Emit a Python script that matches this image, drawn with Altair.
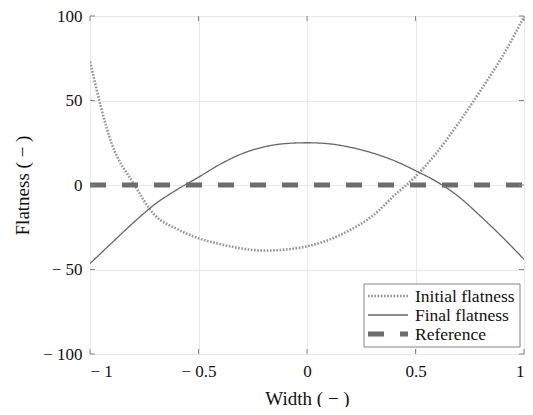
import altair as alt
import pandas as pd

# ---------------- data ----------------
x_grid = [-1.0, -0.9, -0.8, -0.7, -0.6, -0.5, -0.4, -0.3, -0.2, -0.1, 0.0,
          0.1, 0.2, 0.3, 0.4, 0.5, 0.6, 0.7, 0.8, 0.9, 1.0]
initial_flatness = [73, 24.5, 1, -18, -26, -31.5, -35, -37.6, -38.8, -38.2, -36.3,
                    -32.5, -26.5, -18.5, -6.5, 5, 19.5, 37, 56, 76, 99.5]
final_flatness = [-46.5, -34.3, -22.3, -11.3, -2.8, 4.6, 12.3, 18.5, 22.5, 24.5, 25,
                  24.4, 22.3, 19, 14.5, 8.5, 1.8, -7, -18.5, -30.8, -44]
reference_x = [-1.0, 1.0]
reference_y = [0.0, 0.0]
x_ticks = [-1, -0.5, 0, 0.5, 1]
y_ticks = [-100, -50, 0, 50, 100]
series_names = ["Initial flatness", "Final flatness", "Reference"]

# ---------------- styling ----------------
W, H = 434, 338
FONT = "Liberation Serif, Times New Roman, serif"
FRAME = "#858585"
styles = {
    "Initial flatness": dict(color="#989898", strokeWidth=2.6, strokeDash=[1.7, 1.5]),
    "Final flatness": dict(color="#676767", strokeWidth=1.3, strokeDash=[1, 0]),
    "Reference": dict(color="#6c6c6c", strokeWidth=5, strokeDash=[16, 16]),
}

rows = []
for xv, a, b in zip(x_grid, initial_flatness, final_flatness):
    rows.append({"x": xv, "value": a, "series": series_names[0]})
    rows.append({"x": xv, "value": b, "series": series_names[1]})
for xv, yv in zip(reference_x, reference_y):
    rows.append({"x": xv, "value": yv, "series": series_names[2]})
df = pd.DataFrame(rows)

xs = alt.Scale(domain=[-1, 1], nice=False, zero=False)
ys = alt.Scale(domain=[-100, 100], nice=False, zero=False)
label_expr = "datum.value < 0 ? '\u2212 ' + abs(datum.value) : '' + datum.value"

x_axis = alt.Axis(values=x_ticks, labelExpr=label_expr, title="Width ( \u2212 )",
                  grid=True, labelPadding=9, titleX=W / 2, titleY=50,
                  titleBaseline="alphabetic", titleAlign="center",
                  labelFont=FONT, titleFont=FONT)
y_axis = alt.Axis(values=y_ticks, labelExpr=label_expr, title="Flatness ( \u2212 )",
                  grid=True, labelPadding=8, titleX=-62, titleY=H / 2,
                  titleBaseline="alphabetic", titleAlign="center", titleAngle=270,
                  labelFont=FONT, titleFont=FONT)

X = alt.X("x:Q", scale=xs, axis=x_axis)
Y = alt.Y("value:Q", scale=ys, axis=y_axis)

layers = []
for name in series_names:
    st = styles[name]
    layers.append(
        alt.Chart(df).transform_filter(alt.datum.series == name)
        .mark_line(interpolate="monotone", clip=True, **st)
        .encode(x=X, y=Y)
    )

# inward ticks on all four sides
xt = pd.DataFrame({"x": x_ticks})
yt = pd.DataFrame({"value": y_ticks})
layers.append(alt.Chart(xt).mark_rule(color=FRAME, strokeWidth=1)
              .encode(x=X, y=alt.value(H), y2=alt.value(H - 5)))
layers.append(alt.Chart(xt).mark_rule(color=FRAME, strokeWidth=1)
              .encode(x=X, y=alt.value(0), y2=alt.value(5)))
layers.append(alt.Chart(yt).mark_rule(color=FRAME, strokeWidth=1)
              .encode(y=Y, x=alt.value(0), x2=alt.value(5)))
layers.append(alt.Chart(yt).mark_rule(color=FRAME, strokeWidth=1)
              .encode(y=Y, x=alt.value(W), x2=alt.value(W - 5)))

# legend box
LX0, LX1, LY0, LY1 = 274, 430, 268, 331
one = pd.DataFrame({"k": [0]})
layers.append(alt.Chart(one).mark_rect(fill="white", stroke=FRAME, strokeWidth=1)
              .encode(x=alt.value(LX0), x2=alt.value(LX1), y=alt.value(LY0), y2=alt.value(LY1)))
for i, name in enumerate(series_names):
    st = styles[name]
    yrow = 280 + 19 * i
    layers.append(alt.Chart(one).mark_rule(**st)
                  .encode(x=alt.value(LX0 + 4), x2=alt.value(LX0 + 44), y=alt.value(yrow)))
    layers.append(alt.Chart(pd.DataFrame({"label": [name]}))
                  .mark_text(align="left", baseline="middle", font=FONT, fontSize=17.5, color="#111")
                  .encode(x=alt.value(LX0 + 51), y=alt.value(yrow + 1), text="label:N"))

chart = alt.layer(*layers).properties(
    width=W, height=H,
    padding={"left": 82, "top": 8, "right": 1, "bottom": 53},
    autosize=alt.AutoSizeParams(type="none"),
).configure(
    font=FONT
).configure_view(
    stroke=FRAME, strokeWidth=1
).configure_axis(
    domain=False, ticks=False,
    gridColor="#e9e9e9", gridWidth=1,
    labelFont=FONT, labelFontSize=17, labelColor="#111",
    titleFont=FONT, titleFontSize=19, titleFontWeight="normal", titleColor="#111",
)

chart.save("out.html", embed_options={"renderer": "svg", "actions": False})
